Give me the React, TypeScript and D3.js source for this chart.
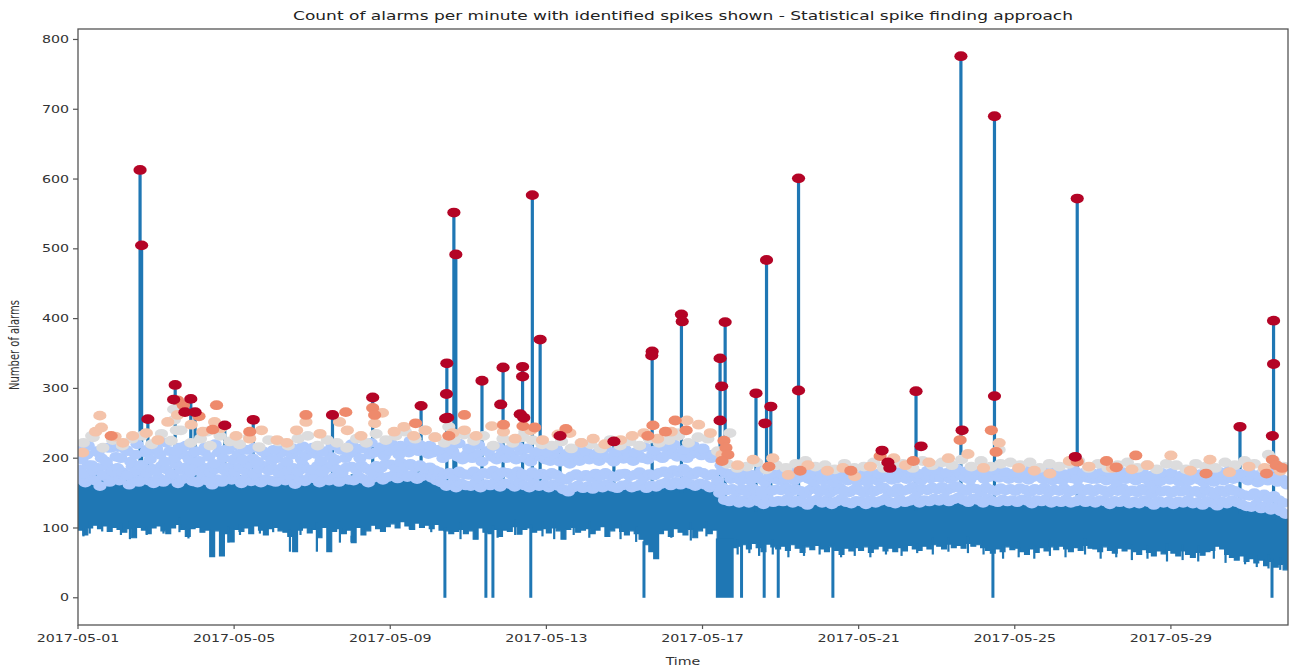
import React from "react";
import * as d3 from "d3";

const W = 1295;
const H = 670;
const PLOT = { left: 78, right: 1288, top: 29, bottom: 625 };
const SX = 1.42; // horizontal stretch of the exported figure
const FONT = "DejaVu Sans, Verdana, sans-serif";

const START = new Date(2017, 4, 1);
const END = new Date(2017, 5, 1);
const DAY_MS = 86400000;

const titleText =
  "Count of alarms per minute with identified spikes shown - Statistical spike finding approach";
const xTickLabels = [
  "2017-05-01", "2017-05-05", "2017-05-09", "2017-05-13",
  "2017-05-17", "2017-05-21", "2017-05-25", "2017-05-29",
];
const yTicks = [0, 100, 200, 300, 400, 500, 600, 700, 800];

// Lower envelope of the per-minute counts, one value per 3-hour block (8 per day)
const bandLow = [
  97, 90, 100, 104, 99, 103, 95, 101,
  98, 94, 99, 86, 101, 97, 92, 100,
  103, 96, 92, 100, 105, 98, 88, 99,
  101, 94, 97, 59, 96, 60, 92, 80,
  98, 95, 100, 92, 103, 97, 90, 99,
  101, 96, 94, 88, 66, 97, 100, 93,
  98, 86, 101, 66, 95, 99, 92, 97,
  79, 101, 90, 96, 104, 99, 95, 102,
  106, 100, 109, 103, 98, 107, 101, 104,
  99, 105, 97, 96, 92, 95, 98, 92,
  96, 84, 100, 94, 92, 98, 88, 97,
  95, 102, 91, 98, 100, 94, 97, 99,
  93, 100, 96, 84, 98, 101, 94, 97,
  99, 92, 97, 102, 88, 96, 100, 95,
  90, 96, 92, 84, 76, 66, 56, 92,
  97, 88, 99, 94, 90, 98, 86, 96,
  100, 92, 97, 80, 70, 66, 72, 74,
  76, 70, 78, 72, 66, 77, 73, 70,
  74, 68, 76, 71, 65, 73, 69, 75,
  70, 66, 73, 68, 62, 71, 67, 72,
  68, 73, 65, 70, 74, 67, 71, 66,
  72, 67, 75, 70, 68, 74, 70, 76,
  74, 70, 77, 72, 75, 71, 78, 74,
  76, 72, 68, 64, 70, 66, 73, 69,
  71, 66, 62, 70, 65, 72, 67, 73,
  69, 74, 70, 66, 72, 68, 75, 71,
  70, 66, 73, 68, 64, 71, 67, 70,
  66, 62, 69, 65, 60, 67, 63, 68,
  64, 60, 67, 62, 58, 65, 61, 66,
  68, 74, 70, 62, 58, 54, 60, 52,
  56, 50, 54, 46, 52, 44, 48, 40,
];

// Upper envelope of the per-minute counts, one value per 6-hour block (4 per day)
const bandHigh = [
  170, 176, 168, 172, 174, 168, 176, 170, 172, 178, 170, 175, 168, 174, 170, 166,
  175, 170, 173, 168, 170, 176, 168, 172, 173, 168, 175, 170, 176, 172, 178, 174,
  178, 174, 180, 176, 172, 165, 160, 163, 160, 164, 158, 162, 163, 158, 161, 157,
  156, 160, 154, 158, 160, 156, 162, 158, 158, 162, 156, 160, 164, 160, 166, 162,
  160, 156, 140, 136, 138, 134, 140, 136, 136, 140, 134, 138, 134, 138, 135, 137,
  136, 133, 138, 135, 138, 135, 140, 136, 140, 137, 142, 138, 138, 141, 136, 140,
  137, 140, 135, 138, 139, 136, 141, 137, 136, 139, 134, 138, 137, 134, 139, 135,
  134, 137, 133, 136, 135, 131, 134, 130, 128, 125, 122, 118,
];

// Short single-minute dips below the band: [day, count]
const dips: [number, number][] = [
  [0.14, 88], [0.3, 92], [0.62, 95], [1.1, 90], [1.33, 84], [1.76, 90], [2.19, 92],
  [2.6, 94], [2.83, 85], [3.85, 79], [4.15, 90], [4.66, 92], [5.0, 94], [5.43, 66],
  [5.7, 90], [6.12, 66], [6.45, 88], [6.71, 79], [7.01, 80], [7.3, 92], [8.5, 98],
  [9.05, 94], [9.8, 84], [10.2, 88], [10.75, 86], [11.2, 90], [11.9, 88], [12.2, 84],
  [12.7, 90], [13.1, 86], [13.55, 88], [13.9, 84], [14.3, 80], [15.2, 86], [15.7, 82],
  [16.1, 88], [16.9, 62], [17.2, 64], [17.45, 60], [17.8, 62], [18.2, 58], [18.6, 60],
  [19.0, 62], [19.55, 58], [19.9, 60], [20.3, 58], [20.7, 62], [21.1, 60], [21.5, 64],
  [21.9, 62], [22.3, 66], [22.8, 64], [23.2, 62], [23.7, 56], [24.1, 58], [24.5, 56],
  [24.9, 60], [25.3, 58], [25.8, 62], [26.2, 56], [26.6, 58], [27.0, 54], [27.4, 56],
  [27.9, 52], [28.3, 54], [28.7, 52], [29.1, 56], [29.4, 50], [29.9, 48], [30.2, 44],
  [30.5, 42], [30.8, 40],
];

// Minutes where the count fell to zero: [start day, end day] after 05-01 00:00
const zeroDrops: [number, number][] = [
  [9.4, 9.4], [10.45, 10.45], [10.63, 10.63], [11.6, 11.6], [14.5, 14.5],
  [16.38, 16.76], [17.0, 17.0], [17.58, 17.58], [17.94, 17.94], [19.34, 19.34],
  [23.44, 23.44], [30.59, 30.59],
];

// Isolated bursts: [day, peak count]
const spikePeaks: [number, number][] = [
  [1.59, 613], [1.63, 505], [1.79, 256], [2.49, 305], [2.89, 285], [3.0, 266],
  [3.76, 247], [4.49, 255], [6.52, 262], [7.55, 287], [8.79, 275], [9.45, 336],
  [9.63, 552], [9.68, 492], [10.35, 311], [10.89, 330], [11.39, 331], [11.64, 577],
  [11.84, 370], [12.35, 232], [13.73, 224], [14.71, 353], [15.46, 406], [16.45, 343],
  [16.58, 395], [17.37, 293], [17.64, 484], [17.75, 274], [18.46, 601], [21.47, 296],
  [22.62, 776], [23.48, 690], [25.6, 572], [29.77, 245], [30.63, 397],
];

// Flagged minutes just above the normal level, lowest row (8 per day)
const flaggedRowA = [
  170, 165, 172, 168, 160, 174, 166, 171,
  168, 175, 162, 170, 166, 172, 168, 164,
  172, 166, 170, 176, 164, 170, 173, 167,
  165, 171, 168, 162, 170, 166, 172, 169,
  170, 164, 172, 167, 175, 165, 170, 168,
  166, 172, 168, 174, 163, 170, 167, 172,
  171, 165, 170, 168, 173, 166, 171, 169,
  168, 174, 170, 165, 172, 176, 169, 173,
  175, 171, 178, 173, 176, 170, 174, 177,
  172, 168, 165, 160, 163, 158, 164, 161,
  160, 165, 158, 163, 161, 166, 159, 164,
  163, 159, 165, 161, 158, 164, 160, 162,
  158, 163, 160, 155, 152, 158, 161, 157,
  160, 156, 162, 158, 163, 159, 157, 161,
  162, 158, 160, 164, 157, 161, 159, 163,
  165, 161, 166, 162, 168, 163, 160, 164,
  162, 158, 160, 150, 140, 138, 142, 136,
  140, 136, 142, 138, 134, 141, 137, 139,
  138, 142, 136, 140, 137, 133, 139, 141,
  136, 140, 134, 138, 142, 137, 135, 139,
  138, 134, 140, 136, 139, 142, 137, 135,
  141, 137, 139, 143, 136, 140, 138, 142,
  139, 143, 138, 141, 144, 140, 137, 142,
  140, 136, 142, 139, 137, 141, 138, 140,
  137, 141, 139, 135, 140, 138, 142, 136,
  139, 137, 141, 136, 138, 142, 137, 140,
  136, 140, 138, 134, 139, 137, 141, 135,
  138, 135, 140, 137, 133, 139, 136, 138,
  134, 138, 136, 140, 135, 137, 133, 139,
  136, 132, 138, 135, 140, 137, 134, 131,
  130, 134, 128, 132, 126, 130, 124, 120,
];

// Flagged minutes, second row (8 per day)
const flaggedRowB = [
  184, 178, 190, 182, 186, 176, 188, 181,
  186, 180, 176, 188, 182, 190, 178, 185,
  182, 189, 184, 178, 191, 183, 187, 180,
  188, 181, 186, 179, 184, 190, 182, 187,
  180, 187, 183, 191, 178, 185, 189, 182,
  185, 179, 188, 183, 186, 181, 190, 184,
  183, 189, 180, 186, 191, 184, 179, 187,
  188, 183, 190, 185, 181, 189, 186, 192,
  191, 186, 194, 188, 192, 187, 190, 185,
  187, 183, 180, 176, 179, 174, 181, 177,
  176, 181, 174, 179, 177, 182, 175, 180,
  179, 175, 181, 177, 174, 180, 176, 178,
  174, 179, 176, 171, 169, 174, 177, 173,
  176, 172, 178, 174, 179, 175, 173, 177,
  178, 174, 176, 180, 173, 177, 175, 179,
  181, 177, 183, 179, 185, 180, 176, 181,
  179, 175, 177, 168, 158, 154, 156, 152,
  156, 152, 158, 154, 150, 157, 153, 155,
  154, 158, 152, 156, 153, 149, 155, 157,
  152, 156, 150, 154, 158, 153, 151, 155,
  154, 150, 156, 152, 155, 158, 153, 151,
  157, 153, 155, 159, 152, 156, 154, 158,
  155, 159, 154, 157, 160, 156, 153, 158,
  156, 152, 158, 155, 153, 157, 154, 156,
  153, 157, 155, 151, 156, 154, 158, 152,
  155, 153, 157, 152, 154, 158, 153, 156,
  152, 156, 154, 150, 155, 153, 157, 151,
  154, 151, 156, 153, 149, 155, 152, 154,
  150, 154, 152, 156, 151, 153, 149, 155,
  152, 148, 154, 151, 156, 153, 150, 147,
  146, 150, 144, 148, 142, 146, 140, 136,
];

// Flagged minutes, upper row (8 per day)
const flaggedRowC = [
  198, 205, 190, 210, 200, 195, 215, 202,
  200, 212, 195, 205, 190, 208, 198, 210,
  205, 195, 210, 200, 215, 205, 198, 208,
  196, 210, 202, 192, 208, 200, 212, 198,
  205, 198, 212, 200, 195, 210, 203, 197,
  200, 208, 195, 205, 210, 198, 204, 212,
  206, 196, 210, 202, 198, 212, 200, 207,
  210, 200, 215, 205, 208, 212, 203, 210,
  212, 205, 215, 208, 218, 210, 214, 206,
  208, 212, 200, 205, 210, 202, 198, 206,
  200, 206, 195, 210, 202, 198, 205, 200,
  205, 198, 210, 200, 195, 206, 202, 198,
  196, 202, 195, 198, 192, 200, 196, 203,
  198, 205, 196, 202, 200, 195, 204, 199,
  202, 196, 205, 200, 198, 206, 203, 200,
  205, 210, 202, 208, 200, 206, 210, 204,
  206, 200, 202, 190, 178, 170, 175, 168,
  172, 168, 175, 170, 166, 174, 170, 168,
  170, 175, 168, 172, 178, 170, 166, 173,
  168, 172, 165, 170, 174, 168, 171, 166,
  170, 166, 173, 168, 172, 175, 169, 171,
  174, 170, 176, 172, 168, 175, 171, 173,
  172, 176, 170, 174, 178, 172, 169, 175,
  175, 170, 173, 178, 172, 176, 170, 174,
  171, 175, 169, 173, 177, 170, 174, 168,
  173, 168, 175, 171, 169, 176, 172, 170,
  170, 174, 168, 172, 166, 175, 170, 173,
  168, 172, 170, 165, 171, 167, 173, 169,
  170, 166, 172, 168, 174, 169, 165, 171,
  166, 171, 168, 174, 170, 176, 172, 168,
  170, 165, 175, 168, 172, 166, 170, 162,
];

// Flagged minutes near the top of the low-score cloud (4 per day)
const flaggedRowD = [
  212, 218, 208, 215, 216, 210, 220, 212, 214, 222, 210, 218, 210, 216, 220, 212,
  218, 212, 215, 209, 212, 220, 214, 217, 215, 209, 218, 213, 220, 214, 222, 216,
  222, 218, 225, 219, 218, 212, 215, 221, 214, 219, 210, 216, 212, 217, 214, 209,
  208, 213, 206, 211, 210, 206, 214, 209, 213, 208, 216, 211, 216, 220, 212, 218,
  214, 205, 182, 178, 180, 176, 183, 178, 178, 182, 176, 180, 181, 176, 179, 183,
  177, 181, 178, 175, 180, 184, 178, 182, 183, 179, 185, 181, 182, 178, 184, 180,
  179, 183, 177, 181, 181, 177, 183, 179, 178, 182, 176, 180, 177, 181, 175, 179,
  179, 175, 181, 177, 176, 180, 183, 178, 180, 176, 184, 172,
];

// Flagged minutes of moderate score (4 per day)
const flaggedMidRow = [
  222, 230, 215, 226, 218, 228, 232, 220, 235, 225, 240, 222, 228, 218, 232, 224,
  220, 230, 216, 226, 224, 218, 228, 232, 218, 226, 222, 215, 228, 222, 235, 226,
  232, 238, 228, 240, 230, 222, 226, 234, 225, 232, 218, 228, 222, 230, 226, 220,
  218, 224, 214, 222, 220, 214, 226, 218, 224, 218, 228, 222, 226, 232, 222, 230,
  228, 210, 192, 186, 188, 194, 184, 190, 186, 192, 196, 188, 190, 184, 192, 186,
  188, 194, 186, 192, 192, 186, 196, 190, 194, 190, 198, 188, 196, 188, 192, 194,
  190, 194, 186, 192, 188, 192, 196, 186, 192, 186, 190, 194, 186, 190, 184, 192,
  190, 184, 192, 188, 186, 194, 190, 196, 192, 184, 196, 188,
];

// Extra moderate-score points: [day, count]
const grayPoints: [number, number][] = [
  [0.35, 232], [2.45, 270], [2.47, 255], [2.52, 240], [3.3, 238], [9.5, 245],
  [9.55, 230], [11.45, 238], [15.4, 236], [16.7, 236], [23.6, 212], [30.5, 205],
];

// Points of higher score: [day, count]
const peachPoints: [number, number][] = [
  [0.12, 208], [0.45, 238], [0.56, 261], [0.6, 244], [0.95, 231], [1.15, 222],
  [1.4, 232], [1.75, 236], [2.05, 226], [2.3, 252], [2.55, 262], [2.9, 248],
  [3.2, 238], [3.5, 252], [3.65, 243], [4.05, 232], [4.4, 228], [4.7, 240],
  [5.1, 226], [5.35, 222], [5.6, 240], [5.84, 252], [6.2, 235], [6.7, 252],
  [6.9, 240], [7.25, 232], [7.6, 250], [7.8, 265], [8.1, 238], [8.35, 245],
  [8.6, 232], [8.9, 240], [9.15, 230], [9.6, 236], [9.9, 240], [10.2, 232],
  [10.6, 246], [10.9, 238], [11.2, 228], [11.6, 240], [11.9, 226], [12.3, 234],
  [12.6, 236], [12.9, 222], [13.2, 228], [13.5, 220], [13.9, 226], [14.2, 232],
  [14.5, 236], [14.85, 228], [15.2, 238], [15.6, 254], [15.9, 248], [16.2, 236],
  [16.5, 205], [16.9, 190], [17.3, 198], [17.8, 200], [18.2, 176], [18.7, 190],
  [19.2, 182], [19.6, 186], [19.9, 174], [20.3, 188], [20.9, 200], [21.2, 190],
  [21.8, 194], [22.3, 200], [22.8, 206], [23.2, 186], [23.6, 222], [24.1, 186],
  [24.5, 182], [24.9, 178], [25.4, 196], [25.9, 188], [26.5, 186], [27.0, 184],
  [27.4, 190], [28.0, 204], [28.5, 182], [29.0, 198], [29.5, 180], [30.0, 188],
  [30.4, 186], [30.8, 182],
];

const salmonPoints: [number, number][] = [
  [0.85, 232], [2.55, 283], [2.7, 276], [3.1, 260], [3.55, 276], [3.45, 241],
  [4.4, 238], [5.84, 262], [6.86, 266], [7.55, 272], [7.6, 262], [8.65, 250],
  [9.5, 232], [9.9, 262], [10.9, 248], [11.4, 246], [11.7, 244], [12.5, 242],
  [14.6, 232], [14.73, 247], [15.05, 238], [15.3, 254], [15.58, 240], [16.55, 225],
  [16.6, 215], [16.65, 205], [16.5, 196], [17.7, 188], [18.5, 182], [19.8, 182],
  [20.55, 203], [21.4, 196], [22.6, 226], [23.4, 240], [23.52, 209], [25.6, 195],
  [26.35, 196], [26.6, 187], [27.1, 204], [28.9, 178], [30.45, 178], [30.6, 198],
  [30.7, 190], [30.85, 186],
];

const redPoints: [number, number][] = [
  [1.59, 613], [1.63, 505], [1.79, 256], [2.49, 305], [2.45, 284], [2.89, 285],
  [2.74, 266], [3.0, 266], [3.76, 247], [4.49, 255], [6.52, 262], [7.55, 287],
  [8.79, 275], [9.42, 257], [9.47, 258], [9.45, 336], [9.44, 292], [9.63, 552],
  [9.68, 492], [10.35, 311], [10.89, 330], [10.83, 277], [11.39, 331], [11.39, 317],
  [11.33, 263], [11.42, 258], [11.64, 577], [11.84, 370], [12.35, 232], [13.73, 224],
  [14.71, 353], [14.7, 347], [15.46, 406], [15.48, 396], [16.45, 343], [16.49, 303],
  [16.45, 254], [16.58, 395], [17.37, 293], [17.6, 250], [17.75, 274], [17.64, 484],
  [18.46, 297], [18.46, 601], [20.6, 211], [20.75, 194], [20.8, 186], [21.47, 296],
  [21.6, 217], [22.62, 776], [22.65, 240], [23.48, 289], [23.48, 690], [25.55, 202],
  [25.6, 572], [29.77, 245], [30.63, 397], [30.63, 335], [30.6, 232],
];

const LINE_BLUE = "#1f77b4";
const C_LIGHTBLUE = "#afcafc";
const C_GRAY = "#dcdcdd";
const C_PEACH = "#f4c3aa";
const C_SALMON = "#ee8a6c";
const C_RED = "#b40426";

const dayToDate = (d: number) => new Date(START.getTime() + d * DAY_MS);

export default function App() {
  const x = d3.scaleTime().domain([START, END]).range([PLOT.left, PLOT.right]);
  const y = d3.scaleLinear().domain([-39, 815]).range([PLOT.bottom, PLOT.top]);

  // envelope band of the minute series
  const bandPts = bandLow.map((lo, i) => ({
    t: dayToDate(i / 8),
    lo,
    hi: bandHigh[Math.floor(i / 2)],
  }));
  bandPts.push({ t: END, lo: bandLow[bandLow.length - 1], hi: bandHigh[bandHigh.length - 1] });
  const area = d3
    .area<{ t: Date; lo: number; hi: number }>()
    .x((d) => x(d.t))
    .y0((d) => y(d.lo))
    .y1((d) => y(d.hi))
    .curve(d3.curveStepAfter);

  const highAt = (day: number) => bandHigh[Math.min(bandHigh.length - 1, Math.floor(day * 4))];
  const lowAt = (day: number) => bandLow[Math.min(bandLow.length - 1, Math.floor(day * 8))];

  const rowPts = (vals: number[], perDay: number, offset: number) =>
    vals.map((v, i) => [Math.floor(i / perDay) + ((i % perDay) + offset) / perDay, v]);

  const dotLayers: { pts: number[][]; color: string }[] = [
    { pts: rowPts(flaggedRowA, 8, 0.5), color: C_LIGHTBLUE },
    { pts: rowPts(flaggedRowB, 8, 0.1), color: C_LIGHTBLUE },
    { pts: rowPts(flaggedRowC, 8, 0.8), color: C_LIGHTBLUE },
    { pts: rowPts(flaggedRowD, 4, 0.05), color: C_LIGHTBLUE },
    { pts: rowPts(flaggedMidRow, 4, 0.55), color: C_GRAY },
    { pts: grayPoints, color: C_GRAY },
    { pts: peachPoints, color: C_PEACH },
    { pts: salmonPoints, color: C_SALMON },
    { pts: redPoints, color: C_RED },
  ];

  const xTicks = xTickLabels.map((s) => {
    const [yy, mm, dd] = s.split("-").map(Number);
    return { label: s, t: new Date(yy, mm - 1, dd) };
  });

  return (
    <svg
      width={W}
      height={H}
      style={{ position: "absolute", left: 0, top: 0, background: "#fff" }}
      fontFamily={FONT}
    >
      <defs>
        <clipPath id="plot-clip">
          <rect x={PLOT.left} y={PLOT.top} width={PLOT.right - PLOT.left} height={PLOT.bottom - PLOT.top} />
        </clipPath>
      </defs>

      <g clipPath="url(#plot-clip)">
        <path d={area(bandPts) || ""} fill={LINE_BLUE} stroke={LINE_BLUE} strokeWidth={1.2} />

        {dips.map(([d, v], i) => (
          <line
            key={`dip-${i}`}
            x1={x(dayToDate(d))}
            x2={x(dayToDate(d))}
            y1={y(lowAt(d) + 10)}
            y2={y(v)}
            stroke={LINE_BLUE}
            strokeWidth={2.2}
          />
        ))}

        {zeroDrops.map(([a, b], i) => {
          const x0 = x(dayToDate(a)) - 1.5;
          const x1 = Math.max(x(dayToDate(b)) + 1.5, x0 + 3);
          return (
            <rect
              key={`drop-${i}`}
              x={x0}
              width={x1 - x0}
              y={y(lowAt(a) + 5)}
              height={y(0) - y(lowAt(a) + 5)}
              fill={LINE_BLUE}
            />
          );
        })}

        {spikePeaks.map(([d, v], i) => (
          <line
            key={`spike-${i}`}
            x1={x(dayToDate(d))}
            x2={x(dayToDate(d))}
            y1={y(highAt(d) - 10)}
            y2={y(v)}
            stroke={LINE_BLUE}
            strokeWidth={3.2}
          />
        ))}

        {dotLayers.map((layer, li) => (
          <g key={`layer-${li}`} fill={layer.color}>
            {layer.pts.map(([d, v], i) => (
              <ellipse key={i} cx={x(dayToDate(d))} cy={y(v)} rx={6.6} ry={4.9} />
            ))}
          </g>
        ))}
      </g>

      {/* axes frame */}
      <rect
        x={PLOT.left}
        y={PLOT.top}
        width={PLOT.right - PLOT.left}
        height={PLOT.bottom - PLOT.top}
        fill="none"
        stroke="#555"
        strokeWidth={1.3}
      />

      {/* y axis */}
      {yTicks.map((v) => (
        <g key={`yt-${v}`}>
          <line x1={PLOT.left - 5} x2={PLOT.left} y1={y(v)} y2={y(v)} stroke="#555" strokeWidth={1.2} />
          <text
            transform={`translate(${PLOT.left - 9},${y(v)}) scale(${SX},1)`}
            textAnchor="end"
            dy="0.36em"
            fontSize={10}
            fill="#333"
          >
            {v}
          </text>
        </g>
      ))}

      {/* x axis */}
      {xTicks.map((tk) => (
        <g key={`xt-${tk.label}`}>
          <line x1={x(tk.t)} x2={x(tk.t)} y1={PLOT.bottom} y2={PLOT.bottom + 4} stroke="#555" strokeWidth={1.2} />
          <text
            transform={`translate(${x(tk.t)},${PLOT.bottom + 17}) scale(${SX},1)`}
            textAnchor="middle"
            fontSize={10}
            fill="#333"
          >
            {tk.label}
          </text>
        </g>
      ))}

      <text
        transform={`translate(${(PLOT.left + PLOT.right) / 2},${H - 5}) scale(${SX},1)`}
        textAnchor="middle"
        fontSize={10}
        fill="#333"
      >
        Time
      </text>

      <text
        transform={`translate(19,${(PLOT.top + PLOT.bottom) / 2 + 18}) scale(${SX},1) rotate(-90)`}
        textAnchor="middle"
        fontSize={10}
        fill="#333"
      >
        Number of alarms
      </text>

      <text
        transform={`translate(${(PLOT.left + PLOT.right) / 2},${PLOT.top - 9}) scale(${SX},1)`}
        textAnchor="middle"
        fontSize={12}
        fill="#222"
      >
        {titleText}
      </text>
    </svg>
  );
}
